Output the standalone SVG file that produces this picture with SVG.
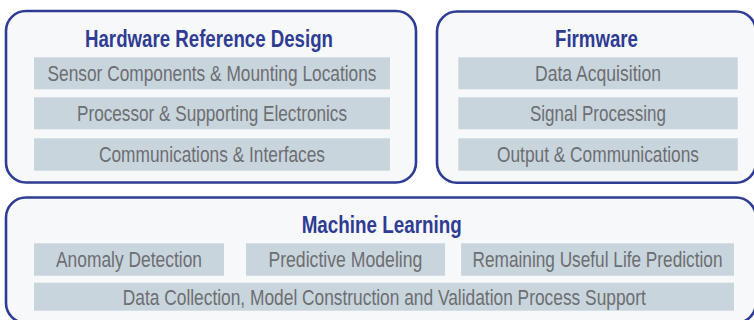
<svg xmlns="http://www.w3.org/2000/svg" width="754" height="320" viewBox="0 0 754 320">
<style>
.box{fill:#f6f8fa;stroke:#2f3c93;stroke-width:2.6}
.bar{fill:#c9d5dd}
.t{font-family:"Liberation Sans",Arial,sans-serif;font-weight:bold;font-size:23px;fill:#2f3c93;text-anchor:middle}
.b{font-family:"Liberation Sans",Arial,sans-serif;font-size:21.5px;fill:#6d6e71;text-anchor:middle}
</style>
<rect width="754" height="320" fill="#ffffff"/>
<g id="hardware">
<rect class="box" x="6" y="11" width="410" height="171.5" rx="20"/>
<text class="t" x="209" y="46.8" textLength="248" lengthAdjust="spacingAndGlyphs">Hardware Reference Design</text>
<rect class="bar" x="34" y="57.3" width="356" height="32"/>
<text class="b" x="212" y="81" textLength="329" lengthAdjust="spacingAndGlyphs">Sensor Components &amp; Mounting Locations</text>
<rect class="bar" x="34" y="97.3" width="356" height="32"/>
<text class="b" x="212" y="121" textLength="270" lengthAdjust="spacingAndGlyphs">Processor &amp; Supporting Electronics</text>
<rect class="bar" x="34" y="138.3" width="356" height="32.4"/>
<text class="b" x="212" y="162" textLength="226" lengthAdjust="spacingAndGlyphs">Communications &amp; Interfaces</text>
</g>
<g id="firmware">
<rect class="box" x="437" y="11.5" width="319" height="171.2" rx="20"/>
<text class="t" x="596.5" y="46.8" textLength="83" lengthAdjust="spacingAndGlyphs">Firmware</text>
<rect class="bar" x="458.3" y="57.3" width="279.5" height="32"/>
<text class="b" x="598" y="81" textLength="126" lengthAdjust="spacingAndGlyphs">Data Acquisition</text>
<rect class="bar" x="458.3" y="97.3" width="279.5" height="32"/>
<text class="b" x="598" y="121" textLength="136" lengthAdjust="spacingAndGlyphs">Signal Processing</text>
<rect class="bar" x="458.3" y="138.3" width="279.5" height="32.4"/>
<text class="b" x="598" y="162" textLength="202" lengthAdjust="spacingAndGlyphs">Output &amp; Communications</text>
</g>
<g id="machine-learning">
<rect class="box" x="6" y="197.5" width="750" height="125.5" rx="20"/>
<text class="t" x="381.7" y="233" textLength="160" lengthAdjust="spacingAndGlyphs">Machine Learning</text>
<rect class="bar" x="34" y="243.3" width="190" height="32.4"/>
<text class="b" x="129" y="267.2" textLength="146" lengthAdjust="spacingAndGlyphs">Anomaly Detection</text>
<rect class="bar" x="246" y="243.3" width="199" height="32.4"/>
<text class="b" x="345.4" y="267.2" textLength="154" lengthAdjust="spacingAndGlyphs">Predictive Modeling</text>
<rect class="bar" x="461" y="243.3" width="273" height="32.4"/>
<text class="b" x="597.5" y="267.2" textLength="250" lengthAdjust="spacingAndGlyphs">Remaining Useful Life Prediction</text>
<rect class="bar" x="34" y="282.7" width="700" height="28"/>
<text class="b" x="384.3" y="304.5" textLength="523" lengthAdjust="spacingAndGlyphs">Data Collection, Model Construction and Validation Process Support</text>
</g>
<g id="connectors"/>
</svg>
